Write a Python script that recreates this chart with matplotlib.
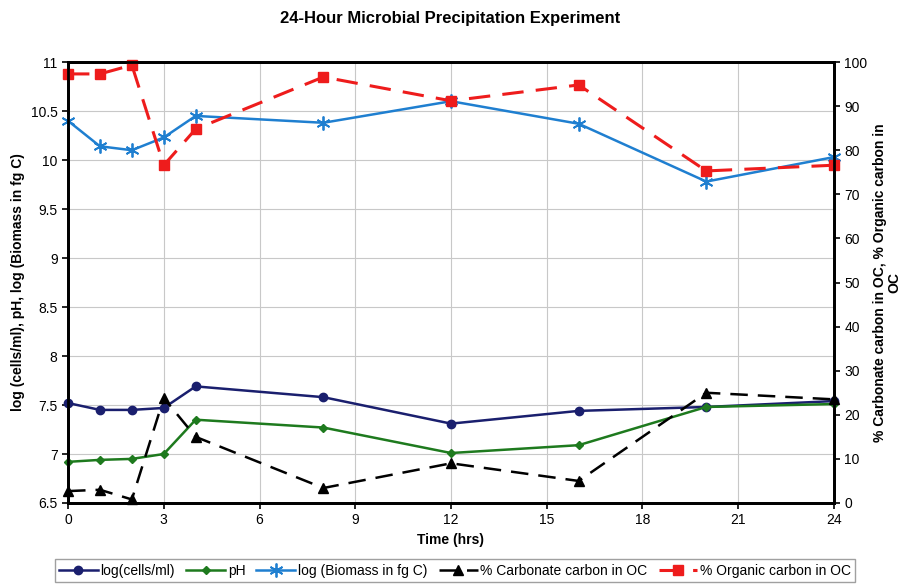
import matplotlib.pyplot as plt

plt.rcParams['font.family'] = ['Liberation Sans', 'DejaVu Sans']

# dados
horas = [0, 1, 2, 3, 4, 8, 12, 16, 20, 24]
log_celulas = [7.52, 7.45, 7.45, 7.47, 7.69, 7.58, 7.31, 7.44, 7.48, 7.54]
ph = [6.92, 6.94, 6.95, 7.00, 7.35, 7.27, 7.01, 7.09, 7.48, 7.51]
log_biomassa = [10.40, 10.14, 10.10, 10.23, 10.45, 10.38, 10.60, 10.37, 9.78, 10.03]
carbonato = [2.7, 3.0, 0.8, 23.8, 15.0, 3.4, 9.0, 5.0, 25.0, 23.5]
organico = [97.3, 97.3, 99.3, 76.6, 84.8, 96.6, 91.2, 94.8, 75.3, 76.6]

fig = plt.figure(figsize=(9.01, 5.84), dpi=100)
ax = fig.add_axes([0.0755, 0.1387, 0.8501, 0.7551])
ax2 = ax.twinx()

l1, = ax.plot(horas, log_celulas, color='#1a1f6e', marker='o', markersize=6, lw=1.8,
              label='log(cells/ml)', zorder=3, clip_on=False)
l2, = ax.plot(horas, ph, color='#1e7a1e', marker='D', markersize=4.5, lw=1.8,
              label='pH', zorder=3, clip_on=False)
l3, = ax.plot(horas, log_biomassa, color='#1f7fd0', marker=(6, 2, 0), markersize=10,
              markeredgewidth=1.3, lw=1.8, label='log (Biomass in fg C)', zorder=3,
              clip_on=False)
l4, = ax2.plot(horas, carbonato, color='black', marker='^', markersize=7, lw=1.8,
               dashes=(7, 4), label='% Carbonate carbon in OC', clip_on=False)
l5, = ax2.plot(horas, organico, color='#ee1c1c', marker='s', markersize=7, lw=2.2,
               dashes=(7, 4), label='% Organic carbon in OC', clip_on=False)

ax.set_xlim(0, 24)
ax.set_ylim(6.5, 11)
ax.set_xticks(range(0, 25, 3))
ax.set_yticks([6.5, 7, 7.5, 8, 8.5, 9, 9.5, 10, 10.5, 11])
ax.set_yticklabels(['6.5', '7', '7.5', '8', '8.5', '9', '9.5', '10', '10.5', '11'])
ax2.set_ylim(0, 100)
ax2.set_yticks(range(0, 101, 10))

ax.grid(True, color='#c8c8c8', lw=0.8)
ax.set_axisbelow(True)
for a in (ax, ax2):
    for s in a.spines.values():
        s.set_linewidth(2)
    a.tick_params(labelsize=10, width=1.2, length=4)

ax.set_xlabel('Time (hrs)', fontsize=10, fontweight='bold')
ax.set_ylabel('log (cells/ml), pH, log (Biomass in fg C)', fontsize=10, fontweight='bold')
ax2.set_ylabel('% Carbonate carbon in OC, % Organic carbon in\nOC', fontsize=10,
               fontweight='bold', linespacing=1.0)
fig.suptitle('24-Hour Microbial Precipitation Experiment', fontsize=12,
             fontweight='bold', y=0.982)

leg = fig.legend(handles=[l1, l2, l3, l4, l5], loc='lower center', ncol=5,
                 bbox_to_anchor=(0.505, -0.008), fontsize=10, frameon=True,
                 fancybox=False, edgecolor='#888888', handlelength=2.8,
                 handletextpad=0.2, columnspacing=0.8, borderpad=0.3)

fig.savefig('out.png', dpi=100)
